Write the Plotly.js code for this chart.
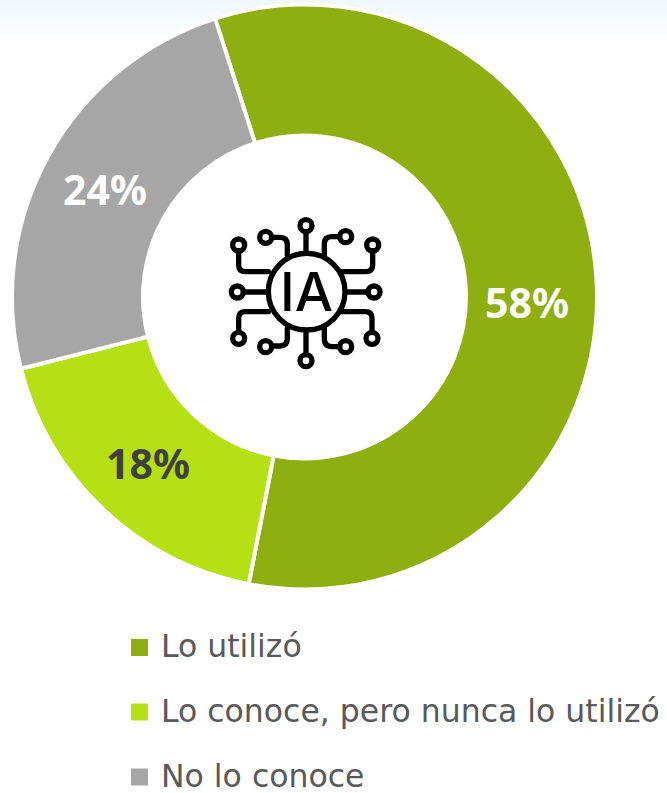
<!DOCTYPE html>
<html>
<head>
<meta charset="utf-8">
<script src="https://cdn.plot.ly/plotly-3.0.1.min.js"></script>
<style>
html,body{margin:0;padding:0;width:667px;height:793px;overflow:hidden;background:#fff}
#bg{position:absolute;left:0;top:0;width:667px;height:45px;background:linear-gradient(180deg,#eef8fd 0%,#f6fbfe 45%,#ffffff 100%)}
#chart{position:absolute;left:0;top:0;width:667px;height:793px}
</style>
</head>
<body>
<div id="bg"></div>
<div id="chart"></div>
<script>
const categories = ['Lo utilizó', 'Lo conoce, pero nunca lo utilizó', 'No lo conoce'];
const values = [58, 18, 24];
const sliceColors = ['#8fae10', '#b4e014', '#a6a6a6'];
const labelColors = ['#ffffff', '#404040', '#ffffff'];
const labelPositions = [[527, 302], [148, 463], [105, 189]];
const legendRows = [647.5, 712, 777];

const W = 667, H = 793;
const px = x => x / W;
const py = y => 1 - y / H;

const icon = `<svg xmlns="http://www.w3.org/2000/svg" viewBox="0 0 630 600" width="630" height="600"><g fill="none" stroke="#000" stroke-width="16" stroke-linecap="round"><circle cx="320" cy="305" r="115"/><circle cx="318" cy="107" r="18"/><path d="M318,125V185"/><circle cx="318" cy="512" r="18"/><path d="M318,425V494"/><circle cx="112" cy="306" r="18"/><path d="M130,306H198"/><circle cx="522" cy="306" r="18"/><path d="M442,306H504"/><circle cx="116" cy="165" r="18"/><path d="M116,183V225Q116,245 136,245H205"/><circle cx="197" cy="142" r="18"/><path d="M215,142H240Q262,142 262,165V195"/><circle cx="437" cy="140" r="18"/><path d="M419,140H395Q373,140 373,162V195"/><circle cx="518" cy="165" r="18"/><path d="M518,183V225Q518,245 498,245H425"/><circle cx="116" cy="445" r="18"/><path d="M116,427V385Q116,365 136,365H205"/><circle cx="197" cy="470" r="18"/><path d="M215,468H240Q262,468 262,445V415"/><circle cx="437" cy="470" r="18"/><path d="M419,470H395Q373,470 373,445V415"/><circle cx="516" cy="445" r="18"/><path d="M516,427V385Q516,365 496,365H425"/></g></svg>`;

const annotations = [];
const shapes = [];
values.forEach((v, i) => {
  annotations.push({
    xref: 'paper', yref: 'paper', x: px(labelPositions[i][0]), y: py(labelPositions[i][1]),
    text: '<b>' + v + '%</b>', showarrow: false, xanchor: 'center', yanchor: 'middle',
    font: {family: '"Noto Sans", sans-serif', size: 41, color: labelColors[i]}
  });
  annotations.push({
    xref: 'paper', yref: 'paper', x: px(159), y: py(legendRows[i] - 1.5),
    text: categories[i], showarrow: false, xanchor: 'left', yanchor: 'middle',
    font: {family: '"DejaVu Sans", sans-serif', size: 31.5, color: '#595959'}
  });
  shapes.push({
    type: 'rect', xref: 'paper', yref: 'paper', line: {width: 0}, fillcolor: sliceColors[i],
    x0: px(131), x1: px(148), y0: py(legendRows[i] - 8.5), y1: py(legendRows[i] + 8.5)
  });
});
annotations.push({
  xref: 'paper', yref: 'paper', x: px(306), y: py(292), text: 'IA', showarrow: false,
  xanchor: 'center', yanchor: 'middle',
  font: {family: 'Inter, sans-serif', size: 54, weight: 500, color: '#000000'}
});

Plotly.newPlot('chart', [{
  type: 'pie',
  labels: categories,
  values: values,
  hole: 0.552,
  sort: false,
  direction: 'clockwise',
  rotation: -17.8,
  textinfo: 'none',
  marker: {colors: sliceColors, line: {color: '#ffffff', width: 4}},
  domain: {x: [px(12), px(597)], y: [py(589.5), py(4.5)]}
}], {
  width: W, height: H,
  margin: {l: 0, r: 0, t: 0, b: 0},
  paper_bgcolor: 'rgba(0,0,0,0)',
  showlegend: false,
  annotations: annotations,
  shapes: shapes,
  images: [{
    source: 'data:image/svg+xml;charset=utf-8,' + encodeURIComponent(icon),
    xref: 'paper', yref: 'paper', x: px(200), y: py(190), sizex: 210 / W, sizey: 200 / H,
    xanchor: 'left', yanchor: 'top', sizing: 'stretch', layer: 'above'
  }]
}, {displayModeBar: false, staticPlot: true});
</script>
</body>
</html>
